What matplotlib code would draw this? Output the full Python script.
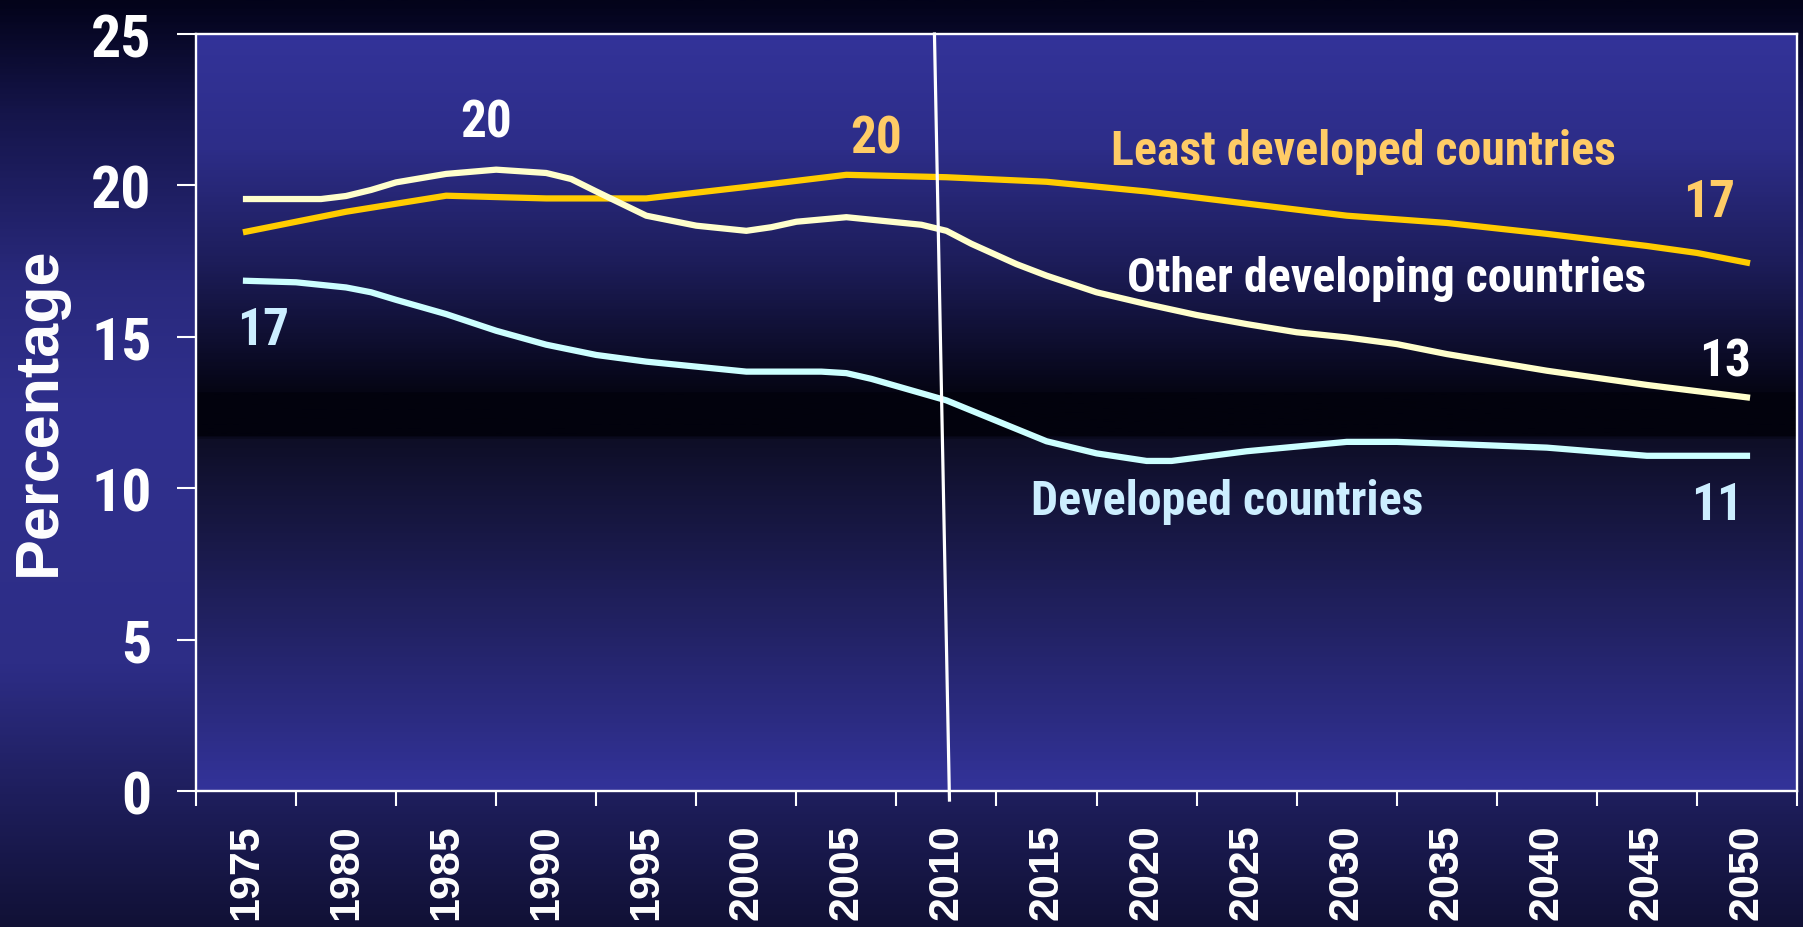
import numpy as np
import matplotlib.pyplot as plt
from matplotlib.colors import LinearSegmentedColormap
from matplotlib import font_manager

# share of population aged 15-24, percent
years_ldc = [1975, 1980, 1985, 1990, 1995, 2000, 2005, 2010, 2015, 2020, 2025,
             2030, 2035, 2040, 2045, 2047.5, 2050]
ldc = [18.47, 19.13, 19.66, 19.57, 19.57, 19.95, 20.35, 20.27, 20.12, 19.8, 19.4,
       19.0, 18.76, 18.4, 18.0, 17.77, 17.45]

years_other = [1975, 1978.75, 1980, 1981.25, 1982.5, 1985, 1987.5, 1990, 1991.25, 1992.5,
               1995, 1997.5, 2000, 2001.25, 2002.5, 2005, 2008.75, 2010, 2011.25, 2013.5,
               2015, 2017.5, 2020, 2022.5, 2025, 2027.5, 2030, 2032.5, 2035, 2040, 2045, 2050]
other = [19.55, 19.55, 19.65, 19.85, 20.1, 20.38, 20.52, 20.41, 20.21, 19.8,
         19.0, 18.67, 18.5, 18.62, 18.8, 18.95, 18.7, 18.5, 18.07, 17.4,
         17.02, 16.47, 16.08, 15.72, 15.42, 15.15, 14.98, 14.76, 14.43, 13.88, 13.41, 13.0]

years_dev = [1975, 1977.5, 1980, 1981.25, 1982.5, 1985, 1987.5, 1990, 1992.5, 1995,
             2000, 2003.75, 2005, 2006.25, 2010, 2015, 2017.5, 2020, 2021.25, 2025,
             2030, 2032.5, 2035, 2040, 2045, 2050]
dev = [16.85, 16.8, 16.63, 16.47, 16.22, 15.75, 15.2, 14.74, 14.4, 14.18,
       13.85, 13.85, 13.8, 13.61, 12.9, 11.55, 11.15, 10.9, 10.9, 11.22,
       11.53, 11.53, 11.47, 11.34, 11.07, 11.07]

tick_years = list(range(1975, 2051, 5))
yticks = [0, 5, 10, 15, 20, 25]

# the slanted "today" marker
split_x = [2009.4, 2010.15]
split_y = [25, -0.3]

# pick a condensed face if one is installed
installed = {f.name for f in font_manager.fontManager.ttflist}
narrow = [n for n in ['Liberation Sans Narrow', 'Roboto Condensed', 'DejaVu Sans Condensed',
                      'Open Sans Condensed', 'Noto Sans Condensed'] if n in installed]
narrow = narrow + ['Liberation Sans', 'DejaVu Sans']
wide = ['Liberation Sans', 'DejaVu Sans']
stretch = 'condensed'

fig = plt.figure(figsize=(18.03, 9.28), dpi=100)

# figure background gradient
bg = fig.add_axes([0, 0, 1, 1], zorder=-10)
fig_cmap = LinearSegmentedColormap.from_list('figbg', [
    (0, '#03031a'), (0.12, '#15154a'), (0.3, '#29297c'), (0.45, '#30308e'),
    (0.72, '#2d2d86'), (0.86, '#1e1e5c'), (1, '#111136')])
bg.imshow(np.linspace(0, 1, 400).reshape(-1, 1), aspect='auto', cmap=fig_cmap,
          extent=(0, 1, 0, 1))
bg.set_xlim(0, 1)
bg.set_ylim(0, 1)
bg.axis('off')

ax = fig.add_axes([0.1087, 0.14655, 0.88797, 0.81573])
ax.set_facecolor('none')
ax_cmap = LinearSegmentedColormap.from_list('axbg', [
    (0, '#333399'), (0.15, '#2d2d88'), (0.3, '#1d1d5a'), (0.472, '#050514'),
    (0.474, '#02020d'), (0.532, '#02020d'), (0.534, '#0e0e26'), (1, '#333399')])
ax.imshow(np.linspace(0, 1, 600).reshape(-1, 1), aspect='auto', cmap=ax_cmap,
          extent=(1972.5, 2052.5, 0, 25), zorder=0)

lw = 4.5
ax.plot(years_ldc, ldc, color='#ffcc00', lw=lw, zorder=3)
ax.plot(years_other, other, color='#ffffcc', lw=lw, zorder=3)
ax.plot(years_dev, dev, color='#ccffff', lw=lw, zorder=3)
ax.plot(split_x, split_y, color='white', lw=2.3, clip_on=False, zorder=4)

ax.set_xlim(1972.5, 2052.5)
ax.set_ylim(0, 25)

for s in ax.spines.values():
    s.set_color('white')
    s.set_linewidth(1.7)
    s.set_zorder(5)

ax.set_yticks(yticks)
ax.set_yticklabels([str(v) for v in yticks], family=narrow, stretch=stretch,
                   weight='bold', fontsize=43, color='white')
ax.tick_params(axis='y', direction='out', length=14, width=1.5, color='white', pad=18)

ax.set_xticks(tick_years)
ax.set_xticklabels([str(y) for y in tick_years], family=wide, weight='bold',
                   fontsize=31, color='white', rotation=90)
ax.tick_params(axis='x', which='major', length=0, pad=23)
ax.set_xticks(np.arange(1972.5, 2053, 5), minor=True)
ax.tick_params(axis='x', which='minor', direction='out', length=11, width=1.5, color='white')

fig.text(0.0216, 0.557, 'Percentage', rotation=90, ha='center', va='center',
         family=wide, weight='bold', fontsize=44, color='white')

orange = '#ffcc66'
light = '#cceeff'
num = dict(family=narrow, stretch=stretch, weight='bold', fontsize=37,
           ha='center', va='baseline')
lab = dict(family=narrow, stretch=stretch, weight='bold', fontsize=34.5,
           ha='left', va='baseline')
ax.text(1987.0, 21.63, '20', color='white', **num)
ax.text(2006.5, 21.10, '20', color=orange, **num)
ax.text(2048.1, 18.99, '17', color=orange, **num)
ax.text(2048.9, 13.71, '13', color='white', **num)
ax.text(2048.5, 8.98, '11', color=light, **num)
ax.text(1975.85, 14.76, '17', color=light, **num)
ax.text(2018.2, 20.71, 'Least developed countries', color=orange, **lab)
ax.text(2019.0, 16.51, 'Other developing countries', color='white', **lab)
ax.text(2014.2, 9.15, 'Developed countries', color=light, **lab)

fig.savefig('out.png', dpi=100)
